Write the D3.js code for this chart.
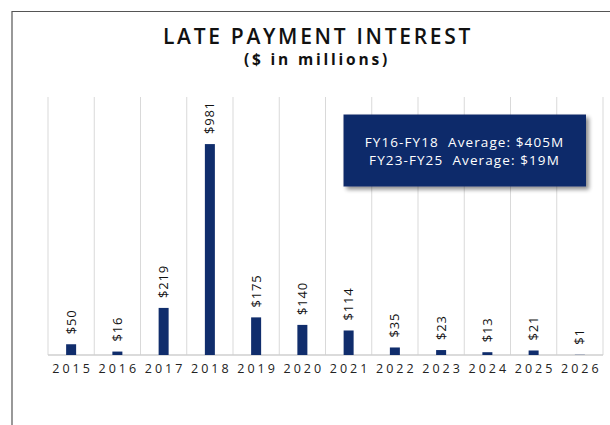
<!DOCTYPE html>
<html><head><meta charset="utf-8">
<script src="https://cdn.jsdelivr.net/npm/d3@7/dist/d3.min.js"></script>
<style>
body{margin:0;background:#fff;}
svg{display:block;font-family:"Open Sans",sans-serif;}
</style></head>
<body><svg id="c" width="610" height="425"></svg>
<script>
const years = ["2015","2016","2017","2018","2019","2020","2021","2022","2023","2024","2025","2026"];
const values = [50,16,219,981,175,140,114,35,23,13,21,1];
const title = "LATE PAYMENT INTEREST";
const subtitle = "($ in millions)";
const boxLines = ["FY16-FY18  Average: $405M","FY23-FY25  Average: $19M"];

const svg = d3.select("#c");
const m = {left:48, right:603, top:97, bottom:355};
const x = d3.scaleBand().domain(years).range([m.left, m.right]).paddingInner(0).paddingOuter(0);
const y = d3.scaleLinear().domain([0,1200]).range([m.bottom, m.top]);

// frame
svg.append("path").attr("d","M12,425 V11.5 H610").attr("fill","none").attr("stroke","#555").attr("stroke-width",1.2);

// title
svg.append("text").attr("x",318).attr("y",44).attr("text-anchor","middle")
  .attr("font-size",21).attr("font-weight",600).attr("letter-spacing",2.7).attr("fill","#111").text(title);
svg.append("text").attr("x",317).attr("y",65).attr("text-anchor","middle")
  .attr("font-size",15.5).attr("font-weight",700).attr("letter-spacing",2.8).attr("fill","#111").text(subtitle);

// gridlines
const grid = svg.append("g");
const edges = years.map(d=>x(d)).concat([m.right]);
grid.selectAll("line").data(edges).join("line")
  .attr("x1",d=>d).attr("x2",d=>d).attr("y1",m.top).attr("y2",m.bottom)
  .attr("stroke","#d9d9d9").attr("stroke-width",1);
svg.append("line").attr("x1",m.left).attr("x2",m.right).attr("y1",m.bottom).attr("y2",m.bottom)
  .attr("stroke","#cfcfcf").attr("stroke-width",1.5);

// x axis labels
const xAxis = d3.axisBottom(x).tickSize(0).tickPadding(9);
const xg = svg.append("g").attr("transform",`translate(0,${m.bottom})`).call(xAxis);
xg.select(".domain").remove();
xg.selectAll("text").attr("font-size",12.5).attr("letter-spacing",3).attr("fill","#222")
  .attr("font-family","'Open Sans',sans-serif").attr("dx","1.5");

// bars
const bw = 10;
svg.append("g").selectAll("rect").data(values).join("rect")
  .attr("x",(d,i)=>x(years[i])+x.bandwidth()/2-bw/2)
  .attr("width",bw)
  .attr("y",d=>y(d)).attr("height",d=>m.bottom-y(d))
  .attr("fill","#102d6c");

// value labels
svg.append("g").selectAll("text").data(values).join("text")
  .attr("transform",(d,i)=>`translate(${x(years[i])+x.bandwidth()/2},${y(d)-10}) rotate(-90)`)
  .attr("dy","0.35em").attr("font-size",13).attr("letter-spacing",0.8).attr("fill","#111")
  .text(d=>"$"+d);

// box with shadow
const defs = svg.append("defs");
const f = defs.append("filter").attr("id","sh").attr("x","-10%").attr("y","-10%").attr("width","130%").attr("height","140%");
f.append("feGaussianBlur").attr("in","SourceAlpha").attr("stdDeviation",2);
f.append("feOffset").attr("dx",3).attr("dy",3).attr("result","ob");
f.append("feComponentTransfer").append("feFuncA").attr("type","linear").attr("slope",0.45);
const mg = f.append("feMerge"); mg.append("feMergeNode"); mg.append("feMergeNode").attr("in","SourceGraphic");
svg.append("rect").attr("x",343.5).attr("y",114.5).attr("width",242.5).attr("height",72)
  .attr("fill","#0f2b6b").attr("filter","url(#sh)");
svg.append("g").selectAll("text").data(boxLines).join("text")
  .attr("x",464.5).attr("y",(d,i)=>147.3+i*18).attr("text-anchor","middle")
  .attr("font-size",13.5).attr("letter-spacing",1.1).attr("fill","#fff").style("white-space","pre").text(d=>d);
</script></body></html>
